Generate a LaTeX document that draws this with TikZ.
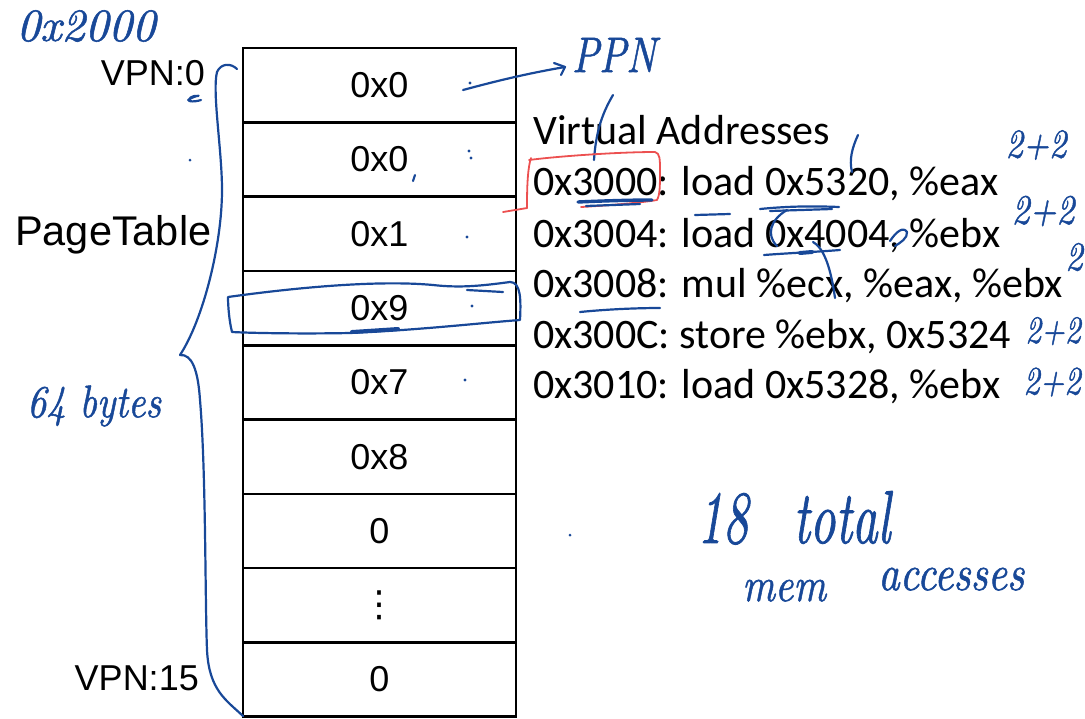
\documentclass[tikz,border=0pt]{standalone}
\usepackage{fontspec}
\usepackage{graphicx}
\newfontfamily\arialfont{Liberation Sans}
\newfontfamily\calibrifont{Carlito}
\newfontfamily\dejavufont{DejaVu Sans}
\newfontfamily\handfont{lmroman10-italic.otf}[FakeBold=1.2]
\definecolor{ink}{RGB}{24,72,152}
\definecolor{redink}{RGB}{236,80,80}
% taller pen lettering
\newcommand\penstretch[2]{\scalebox{1}[#1]{#2}}
\begin{document}
\begin{tikzpicture}[x=1pt,y=-1pt,
  cell/.style={draw=black, line width=2.6pt, minimum width=273pt, minimum height=74.3pt,
    inner sep=0pt, font=\arialfont\fontsize{36}{40}\selectfont},
  lbl/.style={inner sep=0pt, font=\arialfont\fontsize{36}{40}\selectfont},
  code/.style={inner sep=0pt, anchor=base west, font=\calibrifont\fontsize{42}{48}\selectfont},
  hand/.style={inner sep=0pt, text=ink, font=\handfont\fontsize{#1}{#1}\selectfont},
  pen/.style={draw=ink, line width=2.2pt, line cap=round, line join=round},
  redpen/.style={draw=redink, line width=1.8pt, line cap=round, line join=round},
  dotmark/.style={fill=ink, draw=none}]
\useasboundingbox (0,0) rectangle (1085,718);

% page table rows
\foreach \v [count=\k from 0] in {0x0,0x0,0x1,0x9,0x7,0x8,0,{\dejavufont ⋮},0} {
  \node[cell] (row\k) at (379.5,{85.15+74.3*\k}) {\v};
}

% row labels
\node[lbl, anchor=base east] (vpn0) at (205,85) {VPN:0};
\node[lbl, anchor=base east] (vpn15) at (199,690) {VPN:15};
\node[lbl, anchor=base west, font=\arialfont\fontsize{41.5}{46}\selectfont] (ptlabel) at (15,245) {PageTable};

% instruction listing
\node[code] (vahead) at (533,144) {Virtual Addresses};
\node[code] (ins0) at (533,195) {0x3000: load 0x5320, \%eax};
\node[code] (ins1) at (533,247) {0x3004: load 0x4004, \%ebx};
\node[code] (ins2) at (533,297) {0x3008: mul \%ecx, \%eax, \%ebx};
\node[code] (ins3) at (533,348) {0x300C: store \%ebx, 0x5324};
\node[code] (ins4) at (533,398) {0x3010: load 0x5328, \%ebx};

% pen notes
\node[hand=46] (base) at (86,26) {0x2000};
\node[hand=40] (ppn) at (614,55) {\penstretch{1.25}{PPN}};
\node[hand=38] (bytes) at (94,406) {\penstretch{1.2}{64 bytes}};
\node[hand=34] (c0) at (1036,145) {\penstretch{1.2}{2+2}};
\node[hand=35] (c1) at (1043,211) {\penstretch{1.2}{2+2}};
\node[hand=34] (c2) at (1074,257) {\penstretch{1.2}{2}};
\node[hand=31] (c3) at (1053,331) {\penstretch{1.25}{2+2}};
\node[hand=32] (c4) at (1052,382) {\penstretch{1.25}{2+2}};
\node[hand=50, anchor=base west] (total) at (697,543) {\penstretch{1.5}{18\hspace{0.9em}total}};
\node[hand=40, anchor=base west] (mem) at (742,601) {\penstretch{1.2}{mem}};
\node[hand=42, anchor=base west] (acc) at (878,590) {\penstretch{1.2}{accesses}};

% brace spanning the table
\draw[pen] (237,69) .. controls (231,63) and (221,63) .. (217,72)
  .. controls (212,92) and (222,150) .. (222,190)
  .. controls (222,245) and (203,320) .. (180,355)
  .. controls (192,354) and (198,370) .. (200,400)
  .. controls (206,470) and (205,600) .. (207,650)
  .. controls (209,690) and (226,700) .. (243,716);

% loop round the 0x9 entry
\draw[pen] (228,297) .. controls (300,287) and (380,280) .. (433,285)
  .. controls (460,288) and (480,286) .. (510,282)
  .. controls (521,282) and (521,300) .. (520,320)
  .. controls (480,323) and (420,330) .. (350,333)
  .. controls (300,334) and (250,333) .. (232,332)
  .. controls (229,320) and (228,305) .. (228,297);
\draw[pen] (467,290) -- (503,292);
\draw[pen, line width=4pt] (352,332) -- (398,329);

% arrow from the first entry to PPN
\coordinate (ppnfrom) at (463,90);
\coordinate (ppnto) at (565,67);
\draw[pen] (ppnfrom) .. controls (500,80) and (530,73) .. (ppnto);
\draw[pen] (554,63) -- (ppnto) -- (561,75);

% dots and small marks
\fill[dotmark] (470,83) circle (1.6);
\fill[dotmark] (469,151) circle (1.6);
\fill[dotmark] (471,158) circle (1.6);
\fill[dotmark] (467,237) circle (1.6);
\fill[dotmark] (472,306) circle (1.6);
\fill[dotmark] (465,380) circle (1.6);
\fill[dotmark] (190,160) circle (1.5);
\fill[dotmark] (570,535) circle (1.5);
\draw[pen] (415,175) -- (413,181);
\draw[pen] (188,100) .. controls (194,96) and (201,95) .. (198,96)
  .. controls (192,95) and (188,99) .. (189,101) .. controls (193,102) and (198,101) .. (201,100);

% stroke from PPN down through the heading
\draw[pen] (613,95) .. controls (603,112) and (596,130) .. (594,160);
\draw[pen] (858,135) .. controls (852,148) and (849,160) .. (852,172);

% red box round 0x3000
\draw[redpen] (503,212) -- (527,208);
\draw[redpen] (531,158) .. controls (527,170) and (527,195) .. (527,208);
\draw[redpen] (529,160) .. controls (560,156) and (620,152) .. (655,152)
  .. controls (660,153) and (660,160) .. (660,170)
  .. controls (660,185) and (660,195) .. (657,200)
  .. controls (640,203) and (600,206) .. (581,207);

% underlines and marks on the listing
\draw[pen, line width=3.4pt] (578,202) .. controls (600,201) and (630,200) .. (652,200);
\draw[pen] (586,206) -- (640,204);
\draw[pen] (760,209) .. controls (790,206) and (815,206) .. (839,207);
\draw[pen] (770,211) -- (832,209);
\draw[pen] (695,215) -- (730,214);
\draw[pen] (787,210) .. controls (770,220) and (766,235) .. (777,246);
\draw[pen] (764,255) .. controls (790,253) and (815,252) .. (840,250);
\draw[pen, line width=4pt] (800,253) -- (812,252);
\draw[pen] (813,242) .. controls (822,247) and (830,262) .. (835,298);
\draw[pen] (890,241) .. controls (896,232) and (903,226) .. (907,232)
  .. controls (908,238) and (900,243) .. (895,246);
\draw[pen] (580,312) .. controls (610,309) and (640,308) .. (660,308);

\end{tikzpicture}
\end{document}
